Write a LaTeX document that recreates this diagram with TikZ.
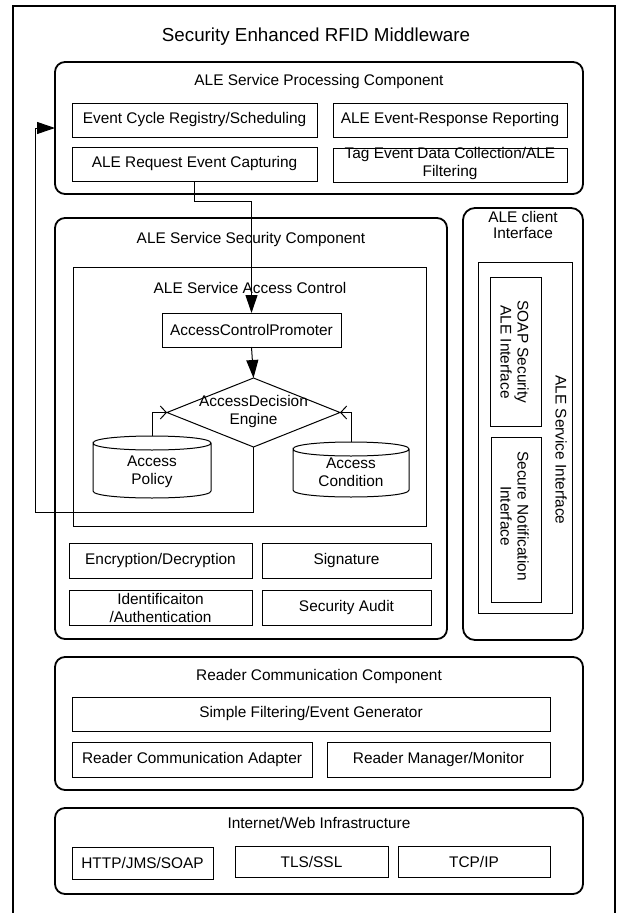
\documentclass[tikz,border=0pt]{standalone}
\usepackage{fontspec}
\setmainfont{Liberation Sans}
\usetikzlibrary{arrows.meta,shapes.geometric,fit}

\newcommand\labfont{\fontsize{15.4pt}{18pt}\selectfont}
\newcommand\headfont{\fontsize{18.8pt}{22pt}\selectfont}

\tikzset{
  frame/.style={draw, line width=1.8pt},
  comp/.style={draw, line width=1.8pt, rounded corners=10pt, inner sep=0pt, outer sep=0pt},
  cell/.style={draw, line width=0.9pt, inner sep=0pt, outer sep=0pt},
  ghost/.style={inner sep=0pt, outer sep=0pt},
  txt/.style={font=\labfont, align=center, inner sep=0pt},
  drum/.style={line width=1pt},
  flow/.style={line width=1pt, -{Triangle[length=18pt,width=12pt]}},
  feed/.style={line width=1pt, -{Straight Barb[length=6pt,width=13pt]}},
}

% box given by two corners, with its label as a separate node on top
\newcommand\tbox[5][cell]{%
  \node[#1, fit={#3 #4}] (#2) {};
  \node[txt] (#2-t) at (#2.center) {#5};}

\begin{document}
\begin{tikzpicture}[x=1pt,y=-1pt]
\useasboundingbox (0,0) rectangle (621,913);

% outer frame (open at the bottom of the page)
\draw[frame] (13,913) -- (13,6) -- (615,6) -- (615,913);
\node[font=\headfont, inner sep=0pt] (title) at (316,37) {Security Enhanced RFID Middleware};

% ALE service processing component
\node[comp, fit={(55,62) (583,194)}] (proc) {};
\node[txt] (proc-t) at (319,82) {ALE Service Processing Component};
\tbox{evcyc}{(72,103)}{(317,137)}{Event Cycle Registry/Scheduling}
\tbox{alerep}{(333,103)}{(567,137)}{ALE Event-Response Reporting}
\tbox{reqcap}{(72,147)}{(317,181)}{ALE Request Event Capturing}
\node[cell, fit={(333,148) (567,182)}] (tagev) {};
\node[txt] (tagev-t) at (450,164) {Tag Event Data Collection/ALE\\Filtering};

% ALE service security component
\node[comp, fit={(55,218) (447,639)}] (sec) {};
\node[txt] (sec-t) at (251,240) {ALE Service Security Component};
\node[cell, line width=1pt, fit={(73,267) (426,526)}] (acc) {};
\node[txt] (acc-t) at (250,288) {ALE Service Access Control};
\tbox{promoter}{(162,313)}{(341,347)}{AccessControlPromoter}

\node[diamond, draw, line width=1pt, minimum width=173pt, minimum height=69pt,
      inner sep=0pt, outer sep=0pt] (decide) at (253.5,412.5) {};
\node[txt] (decide-t) at (253.5,412) {AccessDecision\\Engine};

% data stores
\node[ghost, fit={(93,436) (211,498)}] (policy) {};
\draw[drum] (93,443) .. controls (93,433.67) and (211,433.67) .. (211,443)
  .. controls (211,452.33) and (93,452.33) .. (93,443)
  -- (93,491) .. controls (93,500.33) and (211,500.33) .. (211,491) -- (211,443);
\node[txt] (policy-t) at (152,472) {Access\\Policy};

\node[ghost, fit={(293,442) (409,497)}] (condition) {};
\draw[drum] (293,449) .. controls (293,439.67) and (409,439.67) .. (409,449)
  .. controls (409,458.33) and (293,458.33) .. (293,449)
  -- (293,490) .. controls (293,499.33) and (409,499.33) .. (409,490) -- (409,449);
\node[txt] (condition-t) at (351,472) {Access\\Condition};

\tbox{encdec}{(69,543)}{(252,578)}{Encryption/Decryption}
\tbox{sig}{(262,543)}{(431,578)}{Signature}
\tbox{ident}{(69,590)}{(252,625)}{Identificaiton\\/Authentication}
\tbox{audit}{(262,590)}{(431,625)}{Security Audit}

% ALE client interface
\node[comp, rounded corners=12pt, fit={(463,208) (583,640)}] (client) {};
\node[txt, font=\fontsize{15.4pt}{16.5pt}\selectfont] (client-t) at (523,225) {ALE client\\Interface};
\node[cell, line width=1pt, fit={(478,262) (572,613)}] (svcif) {};
\node[txt, rotate=-90] (svcif-t) at (561,450) {ALE Service Interface};
\node[cell, fit={(490,277) (541,426)}] (soap) {};
\node[txt, rotate=-90, font=\fontsize{15.4pt}{17pt}\selectfont] (soap-t) at (514.5,352) {SOAP Security\\ALE Interface};
\node[cell, fit={(491,437) (541,602)}] (notif) {};
\node[txt, rotate=-90, font=\fontsize{15.4pt}{17pt}\selectfont] (notif-t) at (514.5,516) {Secure Notification\\Interface};

% reader communication component
\node[comp, fit={(55,657) (583,790)}] (reader) {};
\node[txt] (reader-t) at (319,677) {Reader Communication Component};
\tbox{simple}{(72,697)}{(550,731)}{Simple Filtering/Event Generator}
\tbox{adapter}{(72,742)}{(312,777)}{Reader Communication Adapter}
\tbox{manager}{(327,742)}{(550,777)}{Reader Manager/Monitor}

% internet / web infrastructure
\node[comp, fit={(55,808) (583,894)}] (inet) {};
\node[txt] (inet-t) at (319,823) {Internet/Web Infrastructure};
\tbox{http}{(72,847)}{(213,879)}{HTTP/JMS/SOAP}
\tbox{tls}{(235,846)}{(388,877)}{TLS/SSL}
\tbox{tcp}{(398,846)}{(550,877)}{TCP/IP}

% connectors
\draw[flow] (reqcap.south) -- ++(0,20) -| (promoter.north);
\draw[flow] (promoter.south) -- (decide.north);
\draw[feed] (policy.north) |- (decide.west);
\draw[feed] (condition.north) |- (decide.east);
\coordinate (fbcorner) at (35,512);
\coordinate (fbtop) at (35,128);
\draw[flow] (decide.south) |- (fbcorner) -- (fbtop) -- (fbtop -| proc.west);
\end{tikzpicture}
\end{document}
